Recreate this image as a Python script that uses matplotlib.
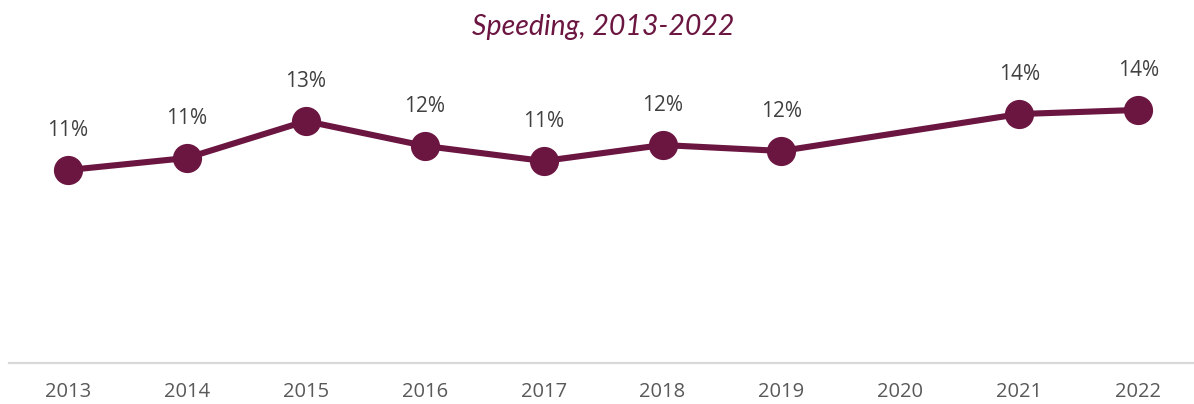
import numpy as np
import matplotlib
matplotlib.use("Agg")
import matplotlib.pyplot as plt

# share of fatal crashes involving speeding, by year (2020 not reported)
years = ["2013", "2014", "2015", "2016", "2017", "2018", "2019", "2020", "2021", "2022"]
speeding_pct = [10.72, 11.39, 13.44, 12.06, 11.22, 12.11, 11.78, np.nan, 13.83, 14.06]

LINE = "#6B1541"
TEXT = "#404040"
TICK = "#595959"
AXIS = "#D9D9D9"

fig = plt.figure(figsize=(11.94, 4.04), dpi=100)
ax = fig.add_axes([8.6 / 1194, 41 / 404, 1189 / 1194, 324 / 404])

x = np.arange(len(years))
y = np.array(speeding_pct)
ok = ~np.isnan(y)
# Excel-style: gap year is skipped, neighbours joined directly
ax.plot(x[ok], y[ok], "-o", color=LINE, lw=4.4, ms=20, solid_capstyle="round",
        zorder=3)
for xi, yi in zip(x[ok], y[ok]):
    ax.annotate(f"{yi:.0f}%", (xi, yi), xytext=(0, 21), textcoords="offset points",
                ha="center", va="bottom", fontsize=15, color=TEXT,
                family="Open Sans")

ax.set_xlim(-0.5, len(years) - 0.5)
ax.set_ylim(0, 18)
ax.set_xticks(x)
ax.set_xticklabels(years, fontsize=14.5, color=TICK, family="Open Sans")
ax.tick_params(axis="x", length=0, pad=14)
ax.set_yticks([])
for s in ("top", "right", "left"):
    ax.spines[s].set_visible(False)
ax.spines["bottom"].set_color(AXIS)
ax.spines["bottom"].set_linewidth(1.6)

fig.text(0.505, 1 - 27 / 404, "Speeding, 2013-2022", ha="center", va="center",
         fontsize=20.5, color=LINE, style="italic", family="Lato")

fig.savefig("out.png", dpi=100)
